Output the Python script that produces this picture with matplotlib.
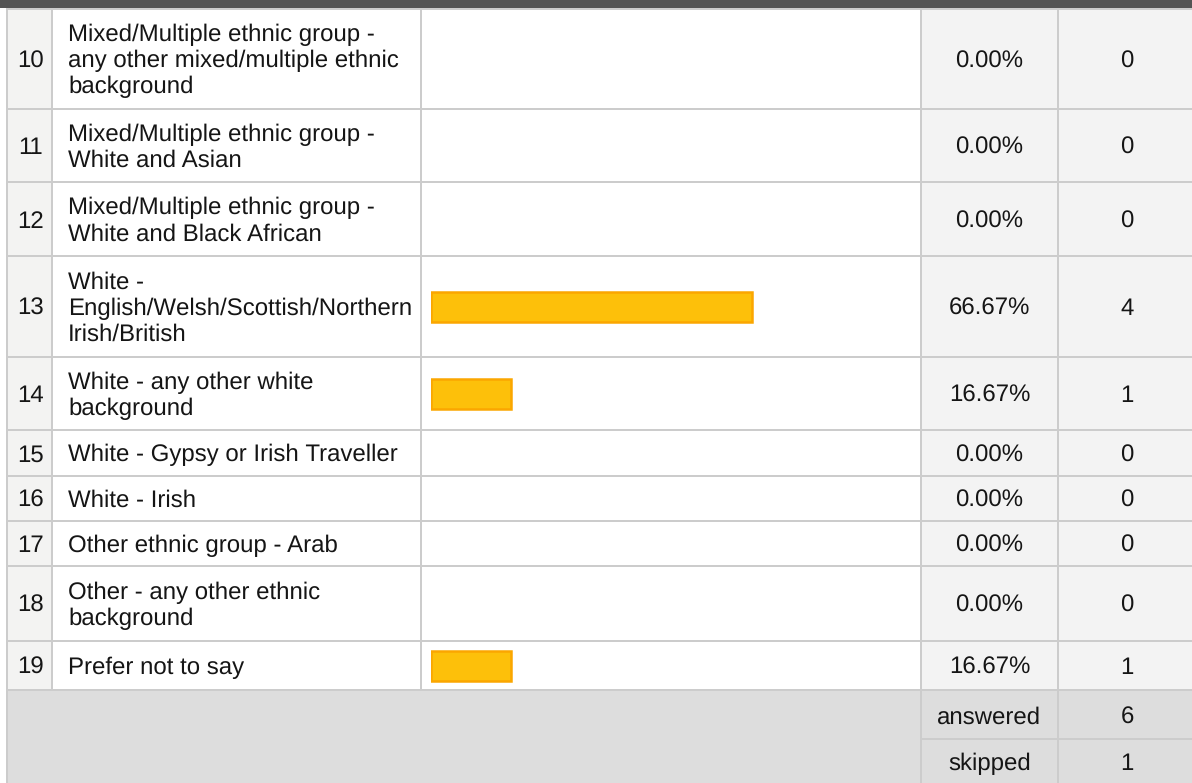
import matplotlib
matplotlib.use("Agg")
import matplotlib.pyplot as plt
from matplotlib.patches import Rectangle

plt.rcParams["text.hinting"] = "no_hinting"
plt.rcParams["text.hinting_factor"] = 1

# ---------------- data ----------------
row_ids = [10, 11, 12, 13, 14, 15, 16, 17, 18, 19]
labels = [
    "Mixed/Multiple ethnic group -\nany other mixed/multiple ethnic\nbackground",
    "Mixed/Multiple ethnic group -\nWhite and Asian",
    "Mixed/Multiple ethnic group -\nWhite and Black African",
    "White -\nEnglish/Welsh/Scottish/Northern\nIrish/British",
    "White - any other white\nbackground",
    "White - Gypsy or Irish Traveller",
    "White - Irish",
    "Other ethnic group - Arab",
    "Other - any other ethnic\nbackground",
    "Prefer not to say",
]
percents = [0.00, 0.00, 0.00, 66.67, 16.67, 0.00, 0.00, 0.00, 0.00, 16.67]
counts = [0, 0, 0, 4, 1, 0, 0, 0, 0, 1]
summary_labels = ["answered", "skipped"]
summary_values = [6, 1]

# ---------------- layout (pixels) ----------------
W, H = 1192, 783
row_edges = [9, 109, 182, 256, 357, 430, 476, 521, 566, 641, 690]
footer_edges = [690, 739, 783]
x_left, x_num, x_lab, x_bar, x_pct, x_cnt = 7, 52, 421, 921, 1058, W
line_col = "#cccccc"
lw = 1.44
txt_col = "#151515"
fs = 17
font = "Liberation Sans"
spacing = 26.0
base_off = 8.5

fig = plt.figure(figsize=(W / 100, H / 100), dpi=100)
ax = fig.add_axes([0, 0, 1, 1])
ax.set_xlim(0, W)
ax.set_ylim(H, 0)
ax.axis("off")

# header band
ax.add_patch(Rectangle((0, 0), W, 8, color="#545454", lw=0))

# backgrounds
top, bot = row_edges[0], row_edges[-1]
ax.add_patch(Rectangle((x_left, top), x_num - x_left, bot - top, color="#f3f3f2", lw=0))
ax.add_patch(Rectangle((x_bar, top), x_cnt - x_bar, bot - top, color="#f3f3f3", lw=0))
ax.add_patch(Rectangle((x_left, footer_edges[0]), W - x_left, footer_edges[-1] - footer_edges[0] + 5,
                       color="#dddddd", lw=0))

# grid lines
for y in row_edges:
    ax.plot([x_left, W], [y, y], color=line_col, lw=lw, solid_capstyle="butt")
ax.plot([x_bar, W], [footer_edges[1], footer_edges[1]], color=line_col, lw=lw)
ax.plot([x_left, x_left], [top, H], color=line_col, lw=lw)
for x in (x_num, x_lab):
    ax.plot([x, x], [top, bot], color=line_col, lw=lw)
for x in (x_bar, x_pct):
    ax.plot([x, x], [top, H], color=line_col, lw=lw)

def put_text(x, center, s, ha):
    lines = s.split("\n")
    n = len(lines)
    for k, ln in enumerate(lines):
        y = center + (k - (n - 1) / 2) * spacing + base_off
        ax.text(x, y, ln, ha=ha, va="baseline", fontsize=fs, family=font, color=txt_col)

centers = [(a + b) / 2 for a, b in zip(row_edges[:-1], row_edges[1:])]
for c, rid, lab, p, n in zip(centers, row_ids, labels, percents, counts):
    put_text((x_left + x_num) / 2 + 1, c, str(rid), "center")
    put_text(68, c, lab, "left")
    put_text((x_bar + x_pct) / 2, c, f"{p:.2f}%", "center")
    put_text(1127, c, str(n), "center")

fcenters = [715.5, 761.5]
for c, lab, v in zip(fcenters, summary_labels, summary_values):
    put_text((x_bar + x_pct) / 2, c, lab, "center")
    put_text(1127, c, str(v), "center")

# bars
bx = fig.add_axes([431 / W, 0, 481 / W, 1])
bx.set_xlim(0, 100)
bx.set_ylim(H, 0)
bx.axis("off")
bc = [c for c, p in zip(centers, percents) if p > 0]
bp = [p for p in percents if p > 0]
bx.barh(bc, bp, height=30, left=0, color="#fdc00a", edgecolor="#fba600", linewidth=1.8)

fig.savefig("out.png", dpi=100)
